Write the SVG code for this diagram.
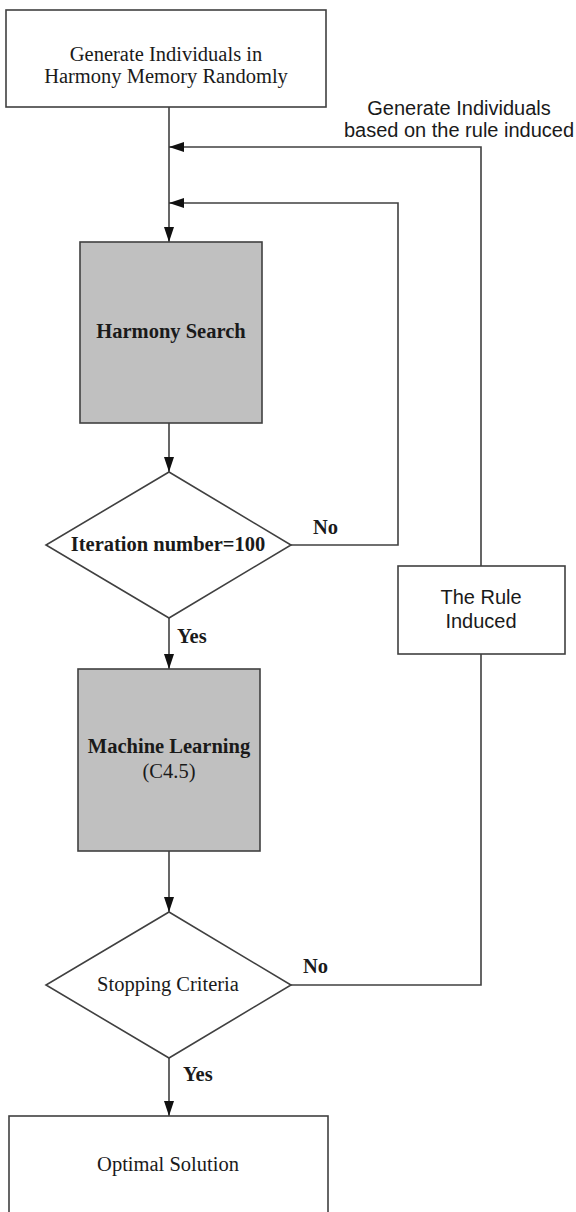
<svg xmlns="http://www.w3.org/2000/svg" width="576" height="1212" viewBox="0 0 576 1212">
<defs>
<marker id="arr" markerUnits="userSpaceOnUse" markerWidth="16" markerHeight="11" refX="15" refY="5" orient="auto">
<path d="M0,0 L15,5 L0,10 z" fill="#111"/>
</marker>
<style>
.box{fill:#fff;stroke:#404040;stroke-width:1.6}
.gray{fill:#c0c0c0;stroke:#404040;stroke-width:1.6}
.serif{font-family:"Liberation Serif","Times New Roman",serif;font-size:20.5px;fill:#1a1a1a;text-anchor:middle}
.bold{font-weight:bold}
.sans{font-family:"Liberation Sans",Arial,sans-serif;font-size:20px;fill:#1a1a1a;text-anchor:middle}
.lbl{font-family:"Liberation Serif","Times New Roman",serif;font-size:20.5px;font-weight:bold;fill:#1a1a1a}
.conn{fill:none;stroke:#404040;stroke-width:1.6}
</style>
</defs>
<rect width="576" height="1212" fill="#fff"/>
<g id="connectors">
<path class="conn" d="M169,107 V242" marker-end="url(#arr)"/>
<path class="conn" d="M481,566 V147 H169" marker-end="url(#arr)"/>
<path class="conn" d="M291,545 H398 V203 H169" marker-end="url(#arr)"/>
<path class="conn" d="M169,423 V472" marker-end="url(#arr)"/>
<path class="conn" d="M169,618 V669" marker-end="url(#arr)"/>
<path class="conn" d="M169,851 V912" marker-end="url(#arr)"/>
<path class="conn" d="M291,985 H481 V654"/>
<path class="conn" d="M169,1058 V1116" marker-end="url(#arr)"/>
<text class="sans" x="459" y="115">Generate Individuals</text>
<text class="sans" x="459" y="137">based on the rule induced</text>
<text class="lbl" x="313" y="534">No</text>
<text class="lbl" x="177" y="643">Yes</text>
<text class="lbl" x="303" y="973">No</text>
<text class="lbl" x="183" y="1081">Yes</text>
</g>
<g id="start">
<rect class="box" x="6" y="10" width="320" height="97"/>
<text class="serif" x="166" y="61">Generate Individuals in</text>
<text class="serif" x="166" y="83">Harmony Memory Randomly</text>
</g>
<g id="harmony">
<rect class="gray" x="80" y="242" width="182" height="181"/>
<text class="serif bold" x="171" y="338">Harmony Search</text>
</g>
<g id="iteration">
<polygon class="box" points="169,472 291,545 169,618 46,545"/>
<text class="serif bold" x="168" y="551">Iteration number=100</text>
</g>
<g id="ml">
<rect class="gray" x="78" y="669" width="182" height="182"/>
<text class="serif bold" x="169" y="753">Machine Learning</text>
<text class="serif" x="169" y="778">(C4.5)</text>
</g>
<g id="rule">
<rect class="box" x="398" y="566" width="167" height="88"/>
<text class="sans" x="481" y="604">The Rule</text>
<text class="sans" x="481" y="628">Induced</text>
</g>
<g id="stopping">
<polygon class="box" points="169,912 291,985 169,1058 46,985"/>
<text class="serif" x="168" y="991">Stopping Criteria</text>
</g>
<g id="optimal">
<rect class="box" x="9" y="1116" width="319" height="120"/>
<text class="serif" x="168" y="1171">Optimal Solution</text>
</g>
</svg>
